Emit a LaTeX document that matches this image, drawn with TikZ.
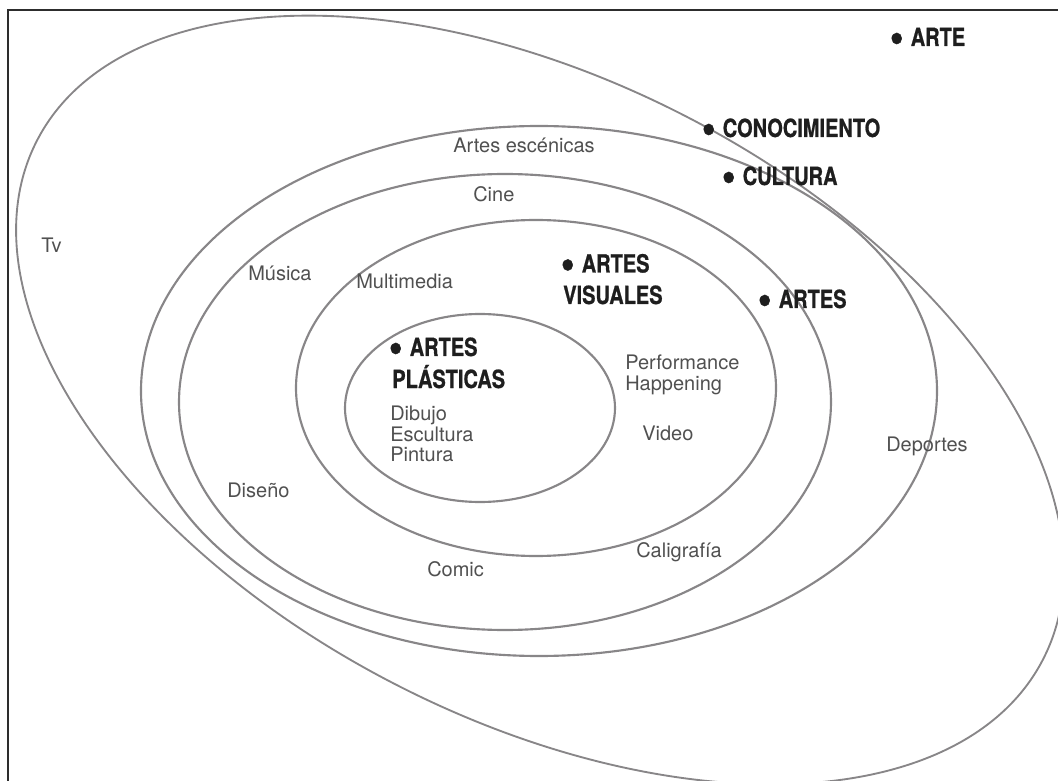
\documentclass[tikz,border=0pt]{standalone}
\usepackage{fontspec}
\setmainfont{TeX Gyre Heros}
\newfontfamily\condb[FakeStretch=0.8,FakeBold=0.8]{TeX Gyre Heros}
\definecolor{ringgray}{RGB}{136,134,136}
\definecolor{lblgray}{RGB}{80,80,80}
\definecolor{headblack}{RGB}{30,30,30}
\definecolor{framegray}{RGB}{45,45,45}
\newcommand\mybul{\makebox[12.75pt][l]{\hspace{-3pt}\smash{\raisebox{-0.24em}{\scalebox{2.0}[1.8]{\textbullet}}}}}
\begin{document}
\begin{tikzpicture}[x=0.75pt,y=-0.75pt,
  ring/.style={draw=ringgray,line width=1.6pt},
  outerring/.style={draw=ringgray,line width=1.4pt},
  frameline/.style={draw=framegray,line width=2.1pt},
  lbl/.style={anchor=base west,inner sep=0pt,text=lblgray,font=\fontsize{15}{18}\selectfont},
  head/.style={anchor=base west,inner sep=0pt,text=headblack,font=\condb\bfseries\fontsize{18.75}{22}\selectfont}]
\useasboundingbox (0,0) rectangle (1058,781);
% frame
\coordinate (fbl) at (8,781);
\coordinate (ftl) at (8,10);
\coordinate (ftr) at (1058,10);
\draw[frameline] (fbl) -- (ftl) -- (ftr);
% rings
\draw[outerring, rotate around={-27.3:(540,400)}] (540,400) ellipse [x radius=566, y radius=319];
\draw[ring] (539,391) ellipse [x radius=398, y radius=265];
\draw[ring] (505,402) ellipse [x radius=326, y radius=228];
\draw[ring] (536,388) ellipse [x radius=240, y radius=168];
\draw[ring] (480,408) ellipse [x radius=135, y radius=94];
% headings
\node[head] (arte) at (893.5,46) {\mybul ARTE};
\node[head] (conoc) at (705.5,137) {\mybul CONOCIMIENTO};
\node[head] (cultura) at (725.5,185) {\mybul CULTURA};
\node[head] (artes) at (761.5,308) {\mybul ARTES};
\node[head] (av1) at (564.5,272.5) {\mybul ARTES};
\node[head] (av2) at (563,304) {VISUALES};
\node[head] (ap1) at (392.5,356) {\mybul ARTES};
\node[head] (ap2) at (392,388) {PLÁSTICAS};
% labels
\node[lbl] (tv) at (41,253) {Tv};
\node[lbl] (escenicas) at (453,153) {Artes escénicas};
\node[lbl] (cine) at (473,202) {Cine};
\node[lbl] (musica) at (248,280.5) {Música};
\node[lbl] (multimedia) at (356,289) {Multimedia};
\node[lbl] (performance) at (625,369) {Performance};
\node[lbl] (happening) at (625,390) {Happening};
\node[lbl] (dibujo) at (390,420) {Dibujo};
\node[lbl] (escultura) at (390,441) {Escultura};
\node[lbl] (pintura) at (390,461) {Pintura};
\node[lbl] (video) at (642,440) {Video};
\node[lbl] (diseno) at (227,497) {Diseño};
\node[lbl] (comic) at (427,576.5) {Comic};
\node[lbl] (caligrafia) at (636,557) {Caligrafía};
\node[lbl] (deportes) at (886,451) {Deportes};
\end{tikzpicture}
\end{document}
